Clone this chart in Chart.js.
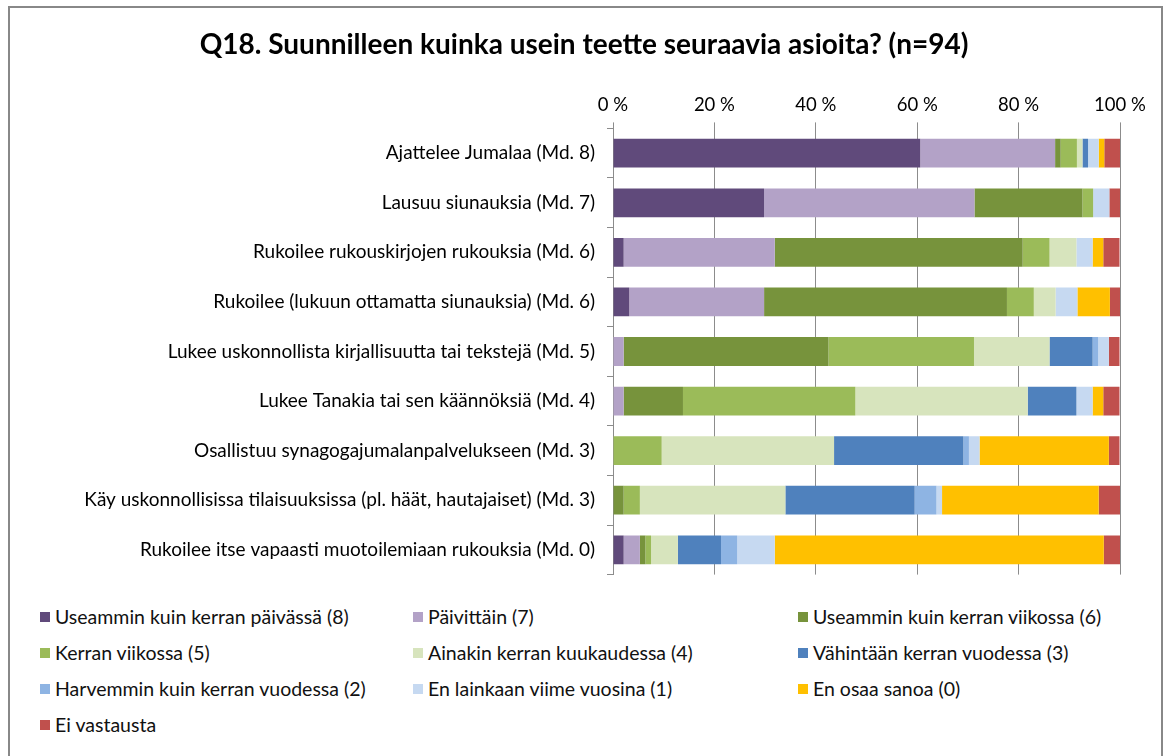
<!DOCTYPE html>
<html>
<head>
<meta charset="utf-8">
<script src="https://cdn.jsdelivr.net/npm/chart.js@4"></script>
<style>
  body { margin: 0; background: #fff; font-family: Lato, "Open Sans", sans-serif; }
  #wrap { position: relative; width: 1168px; height: 756px; overflow: hidden; }
  #frame { position: absolute; left: 8px; top: 6px; width: 1155px; height: 760px; border: 2px solid #888; box-sizing: border-box; }
  #box { position: absolute; left: 48px; top: 8px; width: 1116px; height: 590px; }
  #legend { position: absolute; left: 40px; top: 605px; width: 1110px; display: grid;
            grid-template-columns: 373px 385px 350px; row-gap: 13px; font-size: 19.5px; color: #111; }
  #legend div { display: flex; align-items: center; height: 23px; white-space: nowrap; }
  #legend span.sw { display: inline-block; width: 10px; height: 10px; margin-right: 5px; }
</style>
</head>
<body>
<div id="wrap">
  <div id="frame"></div>
  <div id="box"><canvas id="chart"></canvas></div>
  <div id="legend"></div>
</div>
<script>
'use strict';

let categories = [
  'Ajattelee Jumalaa (Md. 8)',
  'Lausuu siunauksia (Md. 7)',
  'Rukoilee rukouskirjojen rukouksia (Md. 6)',
  'Rukoilee (lukuun ottamatta siunauksia) (Md. 6)',
  'Lukee uskonnollista kirjallisuutta tai tekstejä (Md. 5)',
  'Lukee Tanakia tai sen käännöksiä (Md. 4)',
  'Osallistuu synagogajumalanpalvelukseen (Md. 3)',
  'Käy uskonnollisissa tilaisuuksissa (pl. häät, hautajaiset) (Md. 3)',
  'Rukoilee itse vapaasti muotoilemiaan rukouksia (Md. 0)'
];

let seriesNames = [
  'Useammin kuin kerran päivässä (8)',
  'Päivittäin (7)',
  'Useammin kuin kerran viikossa (6)',
  'Kerran viikossa (5)',
  'Ainakin kerran kuukaudessa (4)',
  'Vähintään kerran vuodessa (3)',
  'Harvemmin kuin kerran vuodessa (2)',
  'En lainkaan viime vuosina (1)',
  'En osaa sanoa (0)',
  'Ei vastausta'
];

// percentages per answer, one value per category
let s8 = [60.6, 29.8, 2.1, 3.2, 0, 0, 0, 0, 2.1];
let s7 = [26.6, 41.5, 29.8, 26.6, 2.1, 2.1, 0, 0, 3.2];
let s6 = [1.1, 21.3, 48.9, 47.9, 40.4, 11.7, 0, 2.1, 1.1];
let s5 = [3.2, 2.1, 5.3, 5.3, 28.7, 34.0, 9.6, 3.2, 1.1];
let s4 = [1.1, 0, 5.3, 4.3, 14.9, 34.0, 34.0, 28.7, 5.3];
let s3 = [1.1, 0, 0, 0, 8.5, 9.6, 25.5, 25.5, 8.5];
let s2 = [0, 0, 0, 0, 1.1, 0, 1.1, 4.3, 3.2];
let s1 = [2.1, 3.2, 3.2, 4.3, 2.1, 3.2, 2.1, 1.1, 7.4];
let s0 = [1.1, 0, 2.1, 6.4, 0, 2.1, 25.5, 30.9, 64.9];
let noAnswer = [3.2, 2.1, 3.2, 2.1, 2.1, 3.2, 2.1, 4.3, 3.2];

let xTicks = [0, 20, 40, 60, 80, 100];

let colors = ['#604A7B', '#B3A2C7', '#77933C', '#9BBB59', '#D7E4BD',
              '#4F81BD', '#8EB4E3', '#C6D9F1', '#FFC000', '#C0504D'];

let allSeries = [s8, s7, s6, s5, s4, s3, s2, s1, s0, noAnswer];

let datasets = [];
for (let i = 0; i < allSeries.length; i++) {
  datasets.push({
    label: seriesNames[i],
    data: allSeries[i],
    backgroundColor: colors[i],
    borderWidth: 0,
    categoryPercentage: 1,
    barPercentage: 0.58
  });
}

// legend as html, three columns
let legendElem = document.getElementById('legend');
for (let i = 0; i < seriesNames.length; i++) {
  let item = document.createElement('div');
  item.innerHTML = '<span class="sw" style="background:' + colors[i] + '"></span>' + seriesNames[i];
  legendElem.appendChild(item);
}

let font = 'Lato, "Open Sans", sans-serif';

new Chart(document.getElementById('chart'), {
  type: 'bar',
  data: { labels: categories, datasets: datasets },
  options: {
    indexAxis: 'y',
    responsive: true,
    maintainAspectRatio: false,
    animation: false,
    layout: { padding: { right: 44, left: 0, bottom: 8 } },
    plugins: {
      legend: { display: false },
      tooltip: { enabled: false },
      title: {
        display: true,
        text: 'Q18. Suunnilleen kuinka usein teette seuraavia asioita? (n=94)',
        color: '#000',
        font: { family: font, size: 28, weight: 'bold', lineHeight: 1.05 },
        padding: { top: 22, bottom: 25 }
      }
    },
    scales: {
      x: {
        position: 'top',
        stacked: true,
        min: 0,
        max: 100,
        afterBuildTicks: function (axis) {
          axis.ticks = xTicks.map(function (v) { return { value: v }; });
        },
        afterFit: function (axis) { axis.height = 44; },
        ticks: {
          padding: 6,
          color: '#000',
          font: { family: font, size: 18.5 },
          callback: function (v) { return v + ' %'; }
        },
        grid: { color: '#8c8c8c', lineWidth: 1, tickLength: 6 },
        border: { display: false }
      },
      y: {
        stacked: true,
        afterFit: function (axis) { axis.width = 565; },
        ticks: {
          padding: 12,
          color: '#000',
          font: { family: font, size: 19 }
        },
        grid: { drawOnChartArea: false, color: '#8c8c8c', tickLength: 6, offset: true },
        border: { display: true, color: '#8c8c8c' }
      }
    }
  }
});
</script>
</body>
</html>
